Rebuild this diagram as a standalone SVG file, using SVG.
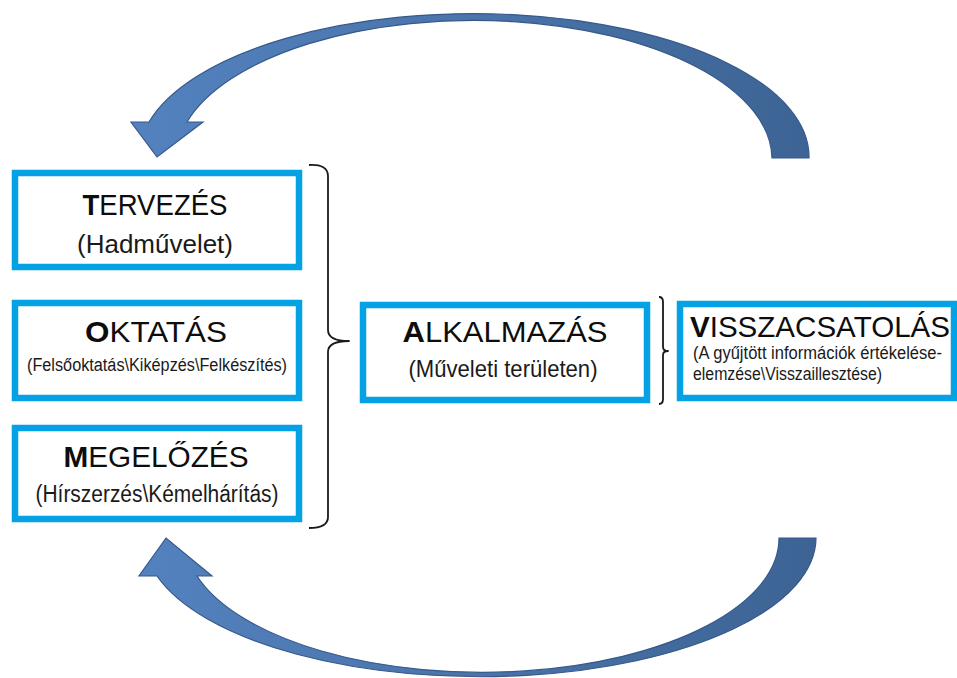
<svg xmlns="http://www.w3.org/2000/svg" width="957" height="678" viewBox="0 0 957 678">
<defs>
<linearGradient id="arrowGrad" gradientUnits="userSpaceOnUse" x1="130" y1="0" x2="820" y2="0">
<stop offset="0" stop-color="#5382bf"/>
<stop offset="0.5" stop-color="#4a74aa"/>
<stop offset="1" stop-color="#3c6393"/>
</linearGradient>
<style>
.box{fill:#ffffff;stroke:#04a1e4;stroke-width:6.5}
.head{font-family:"Liberation Sans",Arial,sans-serif;font-size:30px;fill:#0d0d0d}
.head .b{font-weight:bold}
.sub{font-family:"Liberation Sans",Arial,sans-serif;fill:#1a1a1a}
.brace{fill:none;stroke:#1a1a1a;stroke-width:1.8;stroke-linejoin:round}
.arrow{fill:url(#arrowGrad);stroke:#36598a;stroke-width:1.2;stroke-linejoin:miter}
</style>
</defs>
<rect width="957" height="678" fill="#ffffff"/>
<g id="connectors">
<path id="arrow-top" class="arrow" d="M 809,158 A 335 143 0 0 0 149,122 L 131,122 L 157,157 L 203,122 L 187,122 A 298 139 0 0 1 772,158 Z"/>
<path id="arrow-bottom" class="arrow" d="M 816,538 A 336 139 0 0 1 157,576 L 139,576 L 166,538 L 212,576 L 197,576 A 297 134 0 0 0 779,538 Z"/>
<path id="brace-left" class="brace" d="M 309,165 Q 328,164 328,176 L 328,330 Q 328,341 349,341 Q 328,341 328,352 L 328,517 Q 328,528 309,528"/>
<path id="brace-right" class="brace" d="M 659,297 Q 663,297 663,302 L 663,347 Q 663,351 668,351 Q 663,351 663,355 L 663,399 Q 663,404 659,404"/>
</g>
<g id="node-tervezes">
<rect class="box" x="15" y="173" width="284" height="94"/>
<text class="head" x="155" y="215" text-anchor="middle" textLength="145" lengthAdjust="spacingAndGlyphs"><tspan class="b">T</tspan>ERVEZÉS</text>
<text class="sub" x="155" y="253" text-anchor="middle" font-size="26" textLength="156" lengthAdjust="spacingAndGlyphs">(Hadművelet)</text>
</g>
<g id="node-oktatas">
<rect class="box" x="15" y="303" width="284" height="95"/>
<text class="head" x="156" y="342" text-anchor="middle" textLength="142" lengthAdjust="spacingAndGlyphs"><tspan class="b">O</tspan>KTATÁS</text>
<text class="sub" x="157" y="371" text-anchor="middle" font-size="18" textLength="260" lengthAdjust="spacingAndGlyphs">(Felsőoktatás\Kiképzés\Felkészítés)</text>
</g>
<g id="node-megelozes">
<rect class="box" x="15" y="428" width="284" height="91"/>
<text class="head" x="156" y="467" text-anchor="middle" textLength="185" lengthAdjust="spacingAndGlyphs"><tspan class="b">M</tspan>EGELŐZÉS</text>
<text class="sub" x="157" y="502" text-anchor="middle" font-size="23" textLength="243" lengthAdjust="spacingAndGlyphs">(Hírszerzés\Kémelhárítás)</text>
</g>
<g id="node-alkalmazas">
<rect class="box" x="363" y="305" width="284" height="95"/>
<text class="head" x="505" y="342" text-anchor="middle" textLength="205" lengthAdjust="spacingAndGlyphs"><tspan class="b">A</tspan>LKALMAZÁS</text>
<text class="sub" x="503" y="377" text-anchor="middle" font-size="24" textLength="189" lengthAdjust="spacingAndGlyphs">(Műveleti területen)</text>
</g>
<g id="node-visszacsatolas">
<rect class="box" x="680" y="304" width="274" height="94"/>
<text class="head" x="690" y="337" font-size="28.5" textLength="260" lengthAdjust="spacingAndGlyphs"><tspan class="b">V</tspan>ISSZACSATOLÁS</text>
<text class="sub" x="693" y="359" font-size="17.5" textLength="249" lengthAdjust="spacingAndGlyphs">(A gyűjtött információk értékelése-</text>
<text class="sub" x="693" y="380" font-size="17.5" textLength="189" lengthAdjust="spacingAndGlyphs">elemzése\Visszaillesztése)</text>
</g>
</svg>
